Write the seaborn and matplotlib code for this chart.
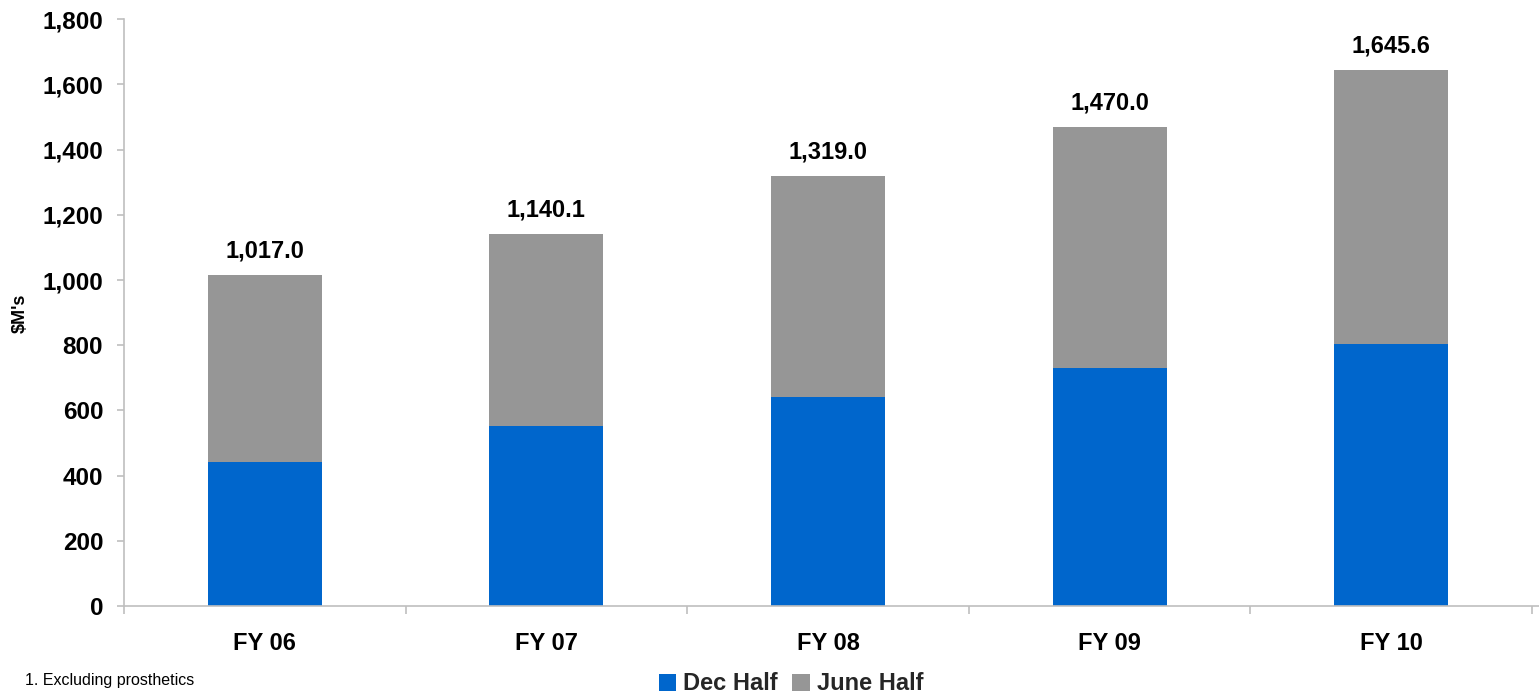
import matplotlib
matplotlib.use("Agg")
import matplotlib.pyplot as plt
from matplotlib.patches import Patch
from matplotlib.ticker import FixedLocator, FuncFormatter
import pandas as pd
import seaborn as sns

# Revenue by financial year, split into half-year contributions ($M)
years = ["FY 06", "FY 07", "FY 08", "FY 09", "FY 10"]
totals = [1017.0, 1140.1, 1319.0, 1470.0, 1645.6]
dec_half = [442.0, 552.0, 641.0, 730.0, 804.0]
june_half = [t - d for t, d in zip(totals, dec_half)]

series_names = ["Dec Half", "June Half"]
y_ticks = [0, 200, 400, 600, 800, 1000, 1200, 1400, 1600, 1800]

BLUE = "#0066CC"
GREY = "#969696"
AXIS_GREY = "#BFBFBF"

df = pd.DataFrame({"year": years, "total": totals, "dec": dec_half, "june": june_half})

sns.set_theme(style="white")
plt.rcParams["font.family"] = ["Liberation Sans", "DejaVu Sans"]

fig = plt.figure(figsize=(15.39, 6.94), dpi=100)
ax = fig.add_axes([124 / 1539, 1 - 606 / 694, 1 - 124 / 1539, (606 - 19.3) / 694])

# Stacked bars: full-year total in grey, Dec half overlaid in blue from the base
sns.barplot(data=df, x="year", y="total", color=GREY, width=0.405, saturation=1, ax=ax)
sns.barplot(data=df, x="year", y="dec", color=BLUE, width=0.405, saturation=1, ax=ax)
for p in ax.patches:
    p.set_edgecolor("none")
    p.set_linewidth(0)

for i, t in enumerate(totals):
    ax.annotate(f"{t:,.1f}", xy=(i, t), xytext=(0, 9), textcoords="offset points",
                ha="center", va="bottom", fontsize=17, fontweight="bold", color="black")

ax.set_ylim(0, 1800)
ax.set_xlim(-0.5, 4.525)
ax.yaxis.set_major_locator(FixedLocator(y_ticks))
ax.yaxis.set_major_formatter(FuncFormatter(lambda v, _: f"{v:,.0f}"))

ax.set_xlabel("")
ax.set_ylabel("")
fig.text(20 / 1539, 1 - 313 / 694, "$M's", rotation=90, fontsize=13, fontweight="bold",
         ha="center", va="center", color="black")

for side in ["top", "right"]:
    ax.spines[side].set_visible(False)
for side in ["left", "bottom"]:
    ax.spines[side].set_color(AXIS_GREY)
    ax.spines[side].set_linewidth(1.2)

# Category separators as small downward ticks on the x axis
ax.xaxis.set_minor_locator(FixedLocator([-0.5, 0.5, 1.5, 2.5, 3.5, 4.5]))
ax.tick_params(axis="x", which="minor", bottom=True, length=6, width=1.2, color=AXIS_GREY)
ax.tick_params(axis="x", which="major", bottom=False, length=0, pad=19,
               labelsize=17)
ax.tick_params(axis="y", which="major", left=True, length=5, width=1.2, color=AXIS_GREY,
               pad=10, labelsize=17.5)
for lab in ax.get_xticklabels() + ax.get_yticklabels():
    lab.set_fontweight("bold")
    lab.set_color("black")

handles = [Patch(facecolor=BLUE, edgecolor="none"), Patch(facecolor=GREY, edgecolor="none")]
fig.legend(handles, series_names, loc="center", bbox_to_anchor=(791 / 1539, 1 - 684 / 694),
           ncol=2, frameon=False, prop={"size": 17, "weight": "bold"},
           handlelength=0.75, handleheight=0.75, handletextpad=0.3, columnspacing=0.6,
           borderpad=0, borderaxespad=0)

fig.text(25 / 1539, 1 - 681 / 694, "1. Excluding prosthetics", fontsize=11.5,
         ha="left", va="center", color="black")

fig.savefig("out.png", dpi=100)
